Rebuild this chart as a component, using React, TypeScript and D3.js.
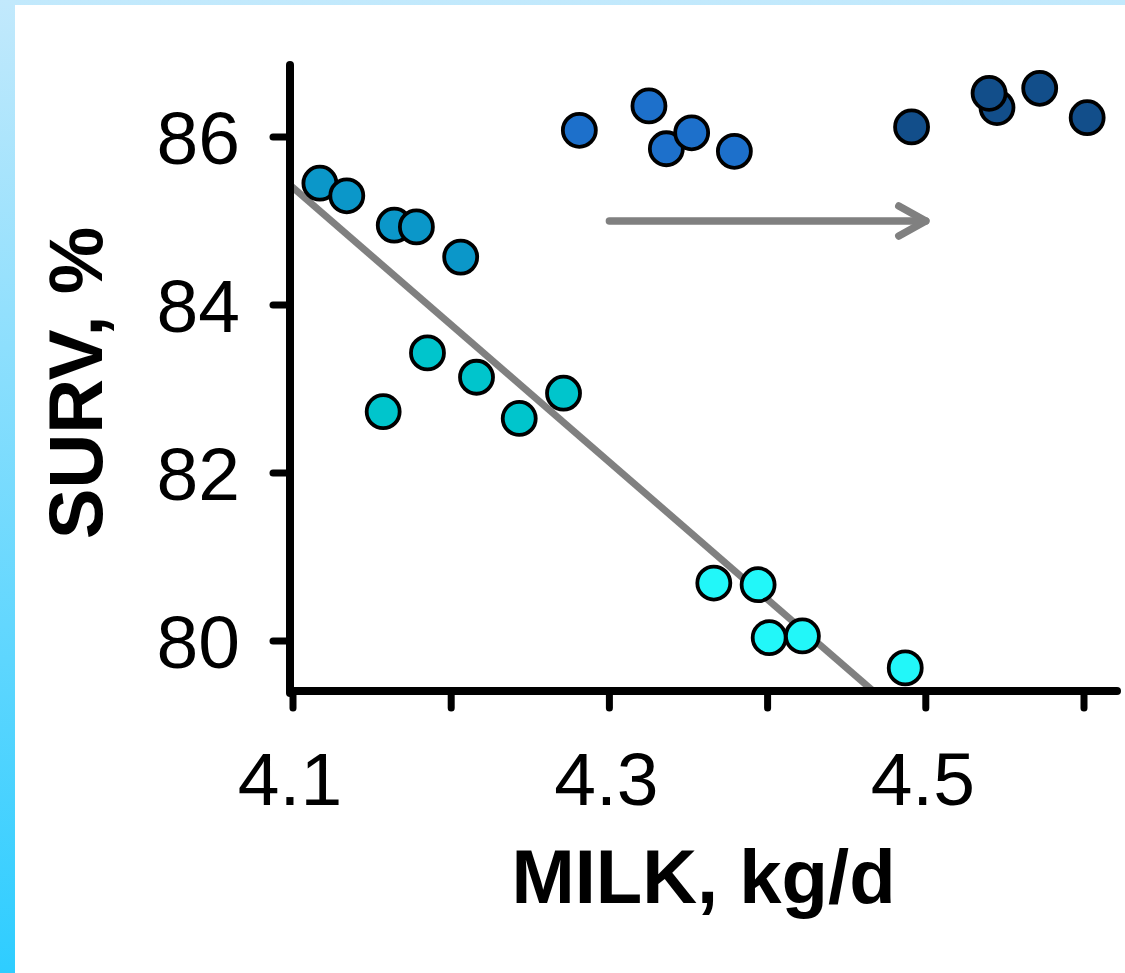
import * as d3 from 'd3';

// groups of points, left to right in drawing order
const groupA = [
  { x: 4.117, y: 85.45 },
  { x: 4.134, y: 85.3 },
  { x: 4.164, y: 84.95 },
  { x: 4.178, y: 84.93 },
  { x: 4.206, y: 84.57 },
];
const groupB = [
  { x: 4.157, y: 82.73 },
  { x: 4.185, y: 83.43 },
  { x: 4.216, y: 83.14 },
  { x: 4.243, y: 82.65 },
  { x: 4.271, y: 82.95 },
];
const groupC = [
  { x: 4.366, y: 80.69 },
  { x: 4.394, y: 80.67 },
  { x: 4.401, y: 80.04 },
  { x: 4.422, y: 80.06 },
  { x: 4.487, y: 79.68 },
];
const groupD = [
  { x: 4.281, y: 86.08 },
  { x: 4.325, y: 86.37 },
  { x: 4.336, y: 85.86 },
  { x: 4.352, y: 86.05 },
  { x: 4.379, y: 85.83 },
];
const groupE = [
  { x: 4.491, y: 86.12 },
  { x: 4.545, y: 86.35 },
  { x: 4.540, y: 86.52 },
  { x: 4.572, y: 86.58 },
  { x: 4.602, y: 86.23 },
];
const groupColors = ['#0b97c9', '#00c5cc', '#22f7f9', '#1d70cb', '#124e8a'];

const trend = [
  { x: 4.098, y: 85.43 },
  { x: 4.467, y: 79.4 },
];
const arrow = [
  { x: 4.3, y: 85.0 },
  { x: 4.5, y: 85.0 },
];

const xTicks = [4.1, 4.2, 4.3, 4.4, 4.5, 4.6];
const xLabels = [4.1, 4.3, 4.5];
const yTicks = [80, 82, 84, 86];

export default function App() {
  const W = 1125;
  const H = 973;
  const left = 290, right = 1117, top = 65, bottom = 691;

  const x = d3.scaleLinear().domain([4.1, 4.6]).range([293, 293 + 5 * 158.2]);
  const y = d3.scaleLinear().domain([80, 86]).range([641, 137]);

  const line = d3.line<{ x: number; y: number }>().x(d => x(d.x)).y(d => y(d.y));
  const groups = [groupA, groupB, groupC, groupD, groupE];

  const ax = x(arrow[1].x), ay = y(arrow[1].y);
  const font = 'Arial, "Liberation Sans", sans-serif';

  return (
    <svg width={W} height={H} style={{ position: 'absolute', left: 0, top: 0 }}>
      <defs>
        <linearGradient id="bg" x1="0" y1="0" x2="0" y2="1">
          <stop offset="0%" stopColor="#c2e9fc" />
          <stop offset="100%" stopColor="#2ecdff" />
        </linearGradient>
      </defs>
      <rect x={0} y={0} width={W} height={H} fill="url(#bg)" />
      <rect x={15} y={5} width={W - 15} height={H - 5} fill="#fff" />

      {/* trend line and arrow */}
      <path d={line(trend) || ''} stroke="#808080" strokeWidth={7} fill="none" />
      <path d={line(arrow) || ''} stroke="#808080" strokeWidth={7.5} strokeLinecap="round" fill="none" />
      <path
        d={`M${ax - 27},${ay - 15} L${ax},${ay} L${ax - 27},${ay + 15}`}
        stroke="#808080" strokeWidth={7.5} strokeLinecap="round" strokeLinejoin="round" fill="none"
      />

      {/* axes */}
      <g stroke="#000" strokeLinecap="round">
        <line x1={left} x2={left} y1={top} y2={bottom + 2} strokeWidth={8} />
        <line x1={left} x2={right} y1={bottom} y2={bottom} strokeWidth={8} />
        {yTicks.map(t => (
          <line key={t} x1={left - 17} x2={left} y1={y(t)} y2={y(t)} strokeWidth={7} />
        ))}
        {xTicks.map(t => (
          <line key={t} x1={x(t)} x2={x(t)} y1={bottom} y2={bottom + 17} strokeWidth={7} />
        ))}
      </g>

      {/* points */}
      {groups.map((g, gi) =>
        g.map((d, i) => (
          <circle key={`${gi}-${i}`} cx={x(d.x)} cy={y(d.y)} r={16.5}
            fill={groupColors[gi]} stroke="#000" strokeWidth={3.8} />
        ))
      )}

      {/* tick labels */}
      <g fontFamily={font} fontSize={75} fill="#000">
        {yTicks.map(t => (
          <text key={t} x={240} y={y(t)} dy="0.36em" textAnchor="end">{t}</text>
        ))}
        {xLabels.map(t => (
          <text key={t} x={x(t) - 3} y={805} textAnchor="middle">{d3.format('.1f')(t)}</text>
        ))}
      </g>

      {/* axis titles */}
      <text x={(left + right) / 2} y={903} textAnchor="middle" fontFamily={font}
        fontWeight="bold" fontSize={76}>MILK, kg/d</text>
      <text transform={`translate(102,${(top + bottom) / 2 + 5}) rotate(-90)`} textAnchor="middle"
        fontFamily={font} fontWeight="bold" fontSize={76}>SURV, %</text>
    </svg>
  );
}
